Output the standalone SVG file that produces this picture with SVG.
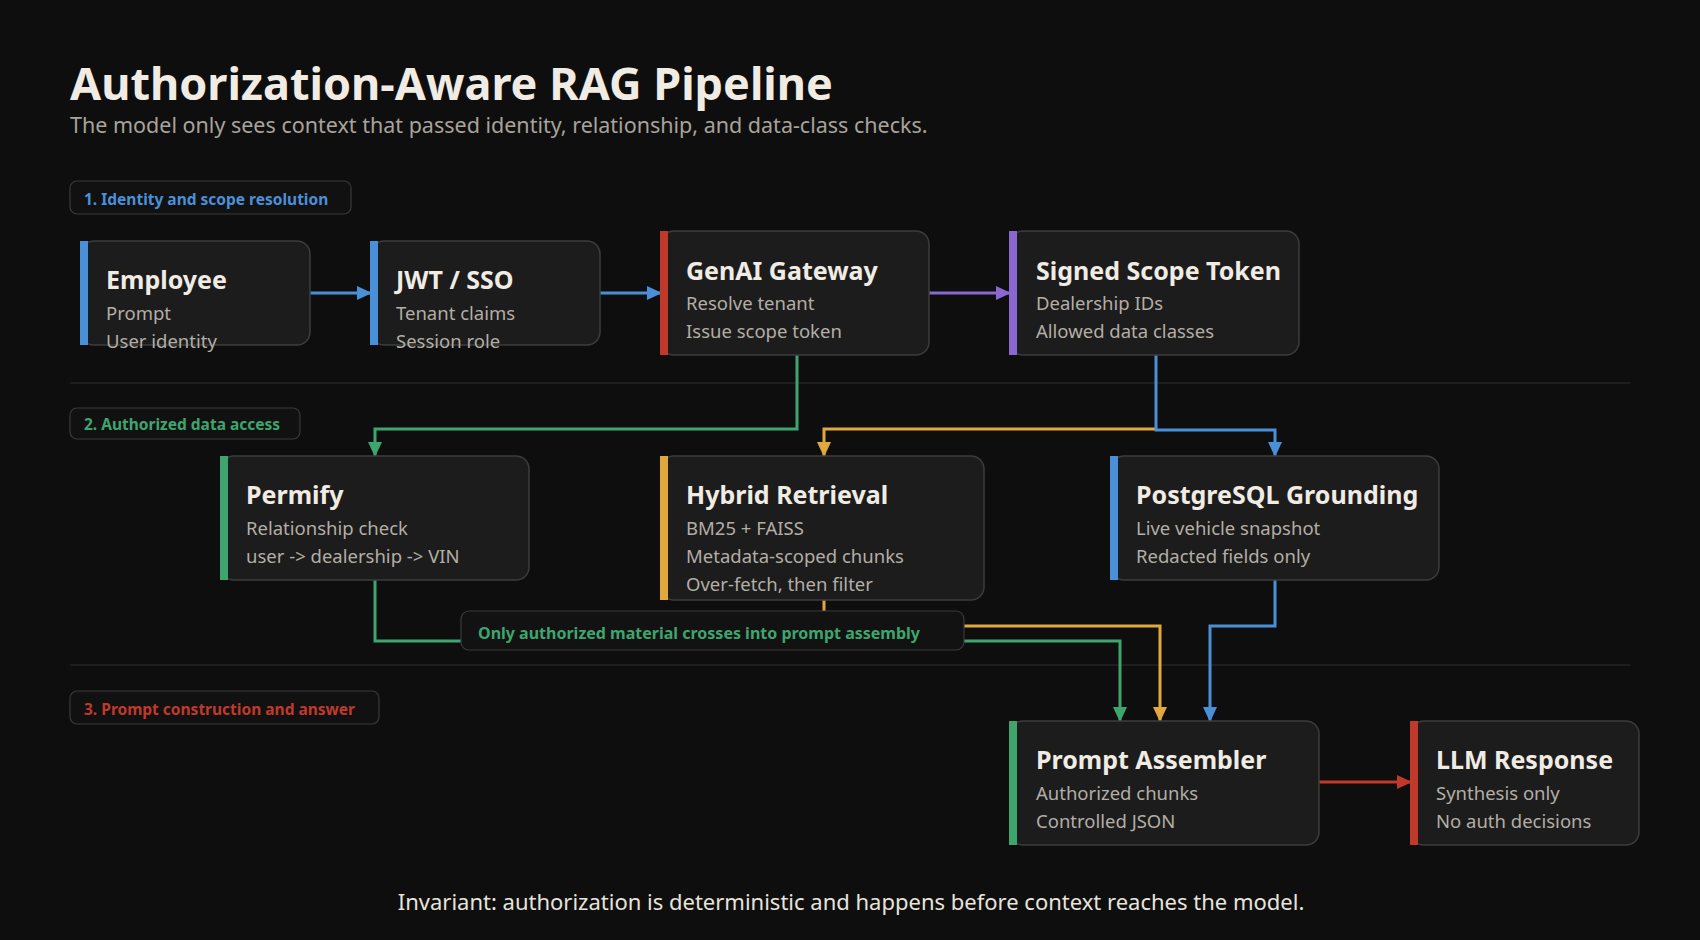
<svg xmlns="http://www.w3.org/2000/svg" width="1700" height="940" viewBox="0 0 1700 940">
<defs>
<style>
text{font-family:"Noto Sans","Open Sans","DejaVu Sans",sans-serif}
.node{fill:#1c1c1c;stroke:#3c3c3c;stroke-width:1.5}
.t{fill:#f0ece4;font-size:25px;font-weight:700}
.s{fill:#b3aea6;font-size:18.5px}
.lab{fill:#111;stroke:#3a3a3a;stroke-width:1.2}
.lt{font-size:15.5px;font-weight:700}
.c{fill:none;stroke-width:3}
.div{stroke:#2e2e2e;stroke-width:1.2}
</style>
<marker id="ab" markerWidth="16" markerHeight="16" refX="14" refY="8" orient="auto" markerUnits="userSpaceOnUse"><path d="M0,1 L15,8 L0,15 Z" fill="#4a90d9"/></marker>
<marker id="ag" markerWidth="16" markerHeight="16" refX="14" refY="8" orient="auto" markerUnits="userSpaceOnUse"><path d="M0,1 L15,8 L0,15 Z" fill="#3fa56f"/></marker>
<marker id="ay" markerWidth="16" markerHeight="16" refX="14" refY="8" orient="auto" markerUnits="userSpaceOnUse"><path d="M0,1 L15,8 L0,15 Z" fill="#e0a83e"/></marker>
<marker id="ap" markerWidth="16" markerHeight="16" refX="14" refY="8" orient="auto" markerUnits="userSpaceOnUse"><path d="M0,1 L15,8 L0,15 Z" fill="#8a68cf"/></marker>
<marker id="ar" markerWidth="16" markerHeight="16" refX="14" refY="8" orient="auto" markerUnits="userSpaceOnUse"><path d="M0,1 L15,8 L0,15 Z" fill="#c0392b"/></marker>
</defs>
<rect width="1700" height="940" fill="#0e0e0e"/>
<text x="70" y="100" style="fill:#f0ece4;font-size:45px;font-weight:700">Authorization-Aware RAG Pipeline</text>
<text x="70" y="133" style="fill:#a8a39c;font-size:21.5px">The model only sees context that passed identity, relationship, and data-class checks.</text>
<line class="div" x1="70" y1="383" x2="1630" y2="383"/>
<line class="div" x1="70" y1="665" x2="1630" y2="665"/>
<g id="label1"><rect class="lab" x="70" y="181" width="281" height="33" rx="7"/><text class="lt" x="84" y="205" fill="#4a90d9">1. Identity and scope resolution</text></g>
<g id="label2"><rect class="lab" x="70" y="408" width="230" height="31" rx="7"/><text class="lt" x="84" y="430" fill="#3fa56f">2. Authorized data access</text></g>
<g id="label3"><rect class="lab" x="70" y="691" width="309" height="33" rx="7"/><text class="lt" x="84" y="715" fill="#c0392b">3. Prompt construction and answer</text></g>
<g id="connectors">
<path class="c" stroke="#4a90d9" d="M310,293 H371" marker-end="url(#ab)"/>
<path class="c" stroke="#4a90d9" d="M600,293 H661" marker-end="url(#ab)"/>
<path class="c" stroke="#8a68cf" d="M929,293 H1010" marker-end="url(#ap)"/>
<path class="c" stroke="#3fa56f" d="M797,355 V429 H375 V456" marker-end="url(#ag)"/>
<path class="c" stroke="#e0a83e" d="M1156,429 H824 V456" marker-end="url(#ay)"/>
<path class="c" stroke="#4a90d9" d="M1156,355 V430 H1275 V456" marker-end="url(#ab)"/>
<path class="c" stroke="#3fa56f" d="M375,580 V641 H1120 V721" marker-end="url(#ag)"/>
<path class="c" stroke="#e0a83e" d="M824,600 V626 H1160 V721" marker-end="url(#ay)"/>
<path class="c" stroke="#4a90d9" d="M1275,580 V626 H1210 V721" marker-end="url(#ab)"/>
<path class="c" stroke="#c0392b" d="M1319,782 H1411" marker-end="url(#ar)"/>
</g>
<g id="banner"><rect x="461" y="611" width="503" height="39" rx="8" fill="#121212" stroke="#3a3a3a" stroke-width="1.2"/><text class="lt" x="478" y="639" fill="#3fa56f" style="font-size:16px">Only authorized material crosses into prompt assembly</text></g>
<g id="employee"><rect class="node" x="81" y="241" width="229" height="104" rx="13"/><rect x="80" y="241" width="8" height="104" fill="#4a90d9"/><text class="t" x="106" y="289">Employee</text><text class="s" x="106" y="320">Prompt</text><text class="s" x="106" y="348">User identity</text></g>
<g id="jwt"><rect class="node" x="371" y="241" width="229" height="104" rx="13"/><rect x="370" y="241" width="8" height="104" fill="#4a90d9"/><text class="t" x="396" y="289">JWT / SSO</text><text class="s" x="396" y="320">Tenant claims</text><text class="s" x="396" y="348">Session role</text></g>
<g id="gateway"><rect class="node" x="661" y="231" width="268" height="124" rx="13"/><rect x="660" y="231" width="8" height="124" fill="#c0392b"/><text class="t" x="686" y="280">GenAI Gateway</text><text class="s" x="686" y="310">Resolve tenant</text><text class="s" x="686" y="338">Issue scope token</text></g>
<g id="token"><rect class="node" x="1010" y="231" width="289" height="124" rx="13"/><rect x="1009" y="231" width="8" height="124" fill="#8a68cf"/><text class="t" x="1036" y="280">Signed Scope Token</text><text class="s" x="1036" y="310">Dealership IDs</text><text class="s" x="1036" y="338">Allowed data classes</text></g>
<g id="permify"><rect class="node" x="221" y="456" width="308" height="124" rx="13"/><rect x="220" y="456" width="8" height="124" fill="#3fa56f"/><text class="t" x="246" y="504">Permify</text><text class="s" x="246" y="535">Relationship check</text><text class="s" x="246" y="563">user -&gt; dealership -&gt; VIN</text></g>
<g id="hybrid"><rect class="node" x="661" y="456" width="323" height="144" rx="13"/><rect x="660" y="456" width="8" height="144" fill="#e0a83e"/><text class="t" x="686" y="504">Hybrid Retrieval</text><text class="s" x="686" y="535">BM25 + FAISS</text><text class="s" x="686" y="563">Metadata-scoped chunks</text><text class="s" x="686" y="591">Over-fetch, then filter</text></g>
<g id="postgres"><rect class="node" x="1111" y="456" width="328" height="124" rx="13"/><rect x="1110" y="456" width="8" height="124" fill="#4a90d9"/><text class="t" x="1136" y="504">PostgreSQL Grounding</text><text class="s" x="1136" y="535">Live vehicle snapshot</text><text class="s" x="1136" y="563">Redacted fields only</text></g>
<g id="assembler"><rect class="node" x="1010" y="721" width="309" height="124" rx="13"/><rect x="1009" y="721" width="8" height="124" fill="#3fa56f"/><text class="t" x="1036" y="769">Prompt Assembler</text><text class="s" x="1036" y="800">Authorized chunks</text><text class="s" x="1036" y="828">Controlled JSON</text></g>
<g id="llm"><rect class="node" x="1411" y="721" width="228" height="124" rx="13"/><rect x="1410" y="721" width="8" height="124" fill="#c0392b"/><text class="t" x="1436" y="769">LLM Response</text><text class="s" x="1436" y="800">Synthesis only</text><text class="s" x="1436" y="828">No auth decisions</text></g>
<text x="851" y="910" text-anchor="middle" style="fill:#e8e4dc;font-size:22px">Invariant: authorization is deterministic and happens before context reaches the model.</text>
</svg>
